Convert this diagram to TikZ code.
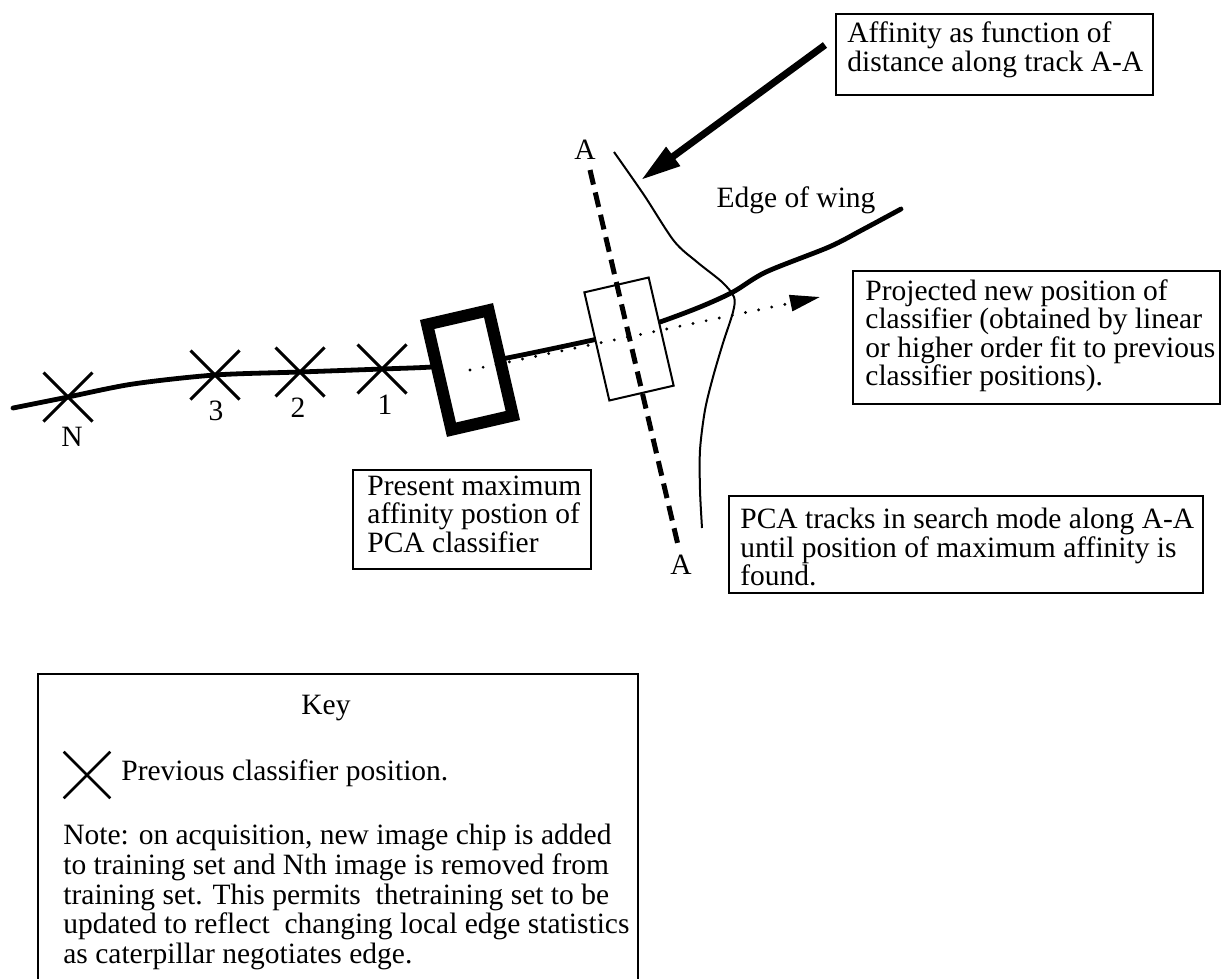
\documentclass[tikz,border=0pt]{standalone}
\usepackage{fontspec}
\setmainfont{Liberation Serif}
\usetikzlibrary{arrows.meta,shapes.misc}
\begin{document}
\begin{tikzpicture}[x=0.5pt,y=-0.5pt,
  every node/.style={font=\fontsize{14.75pt}{14.25pt}\selectfont},
  txtbox/.style={draw, line width=1.2pt, fill=white, anchor=north west, inner sep=0pt},
  boxtext/.style={anchor=west, align=left, inner sep=0pt},
  track/.style={line width=2.4pt, line cap=round, line join=round},
  marker/.style={cross out, draw, line width=1.5pt, minimum size=23pt, inner sep=0pt},
  clsbox/.style={draw, fill=white, rotate=13, inner sep=0pt},
  dotline/.style={line width=1.6pt, line cap=round, dash pattern=on 0pt off 6.7pt, -{Triangle[length=15pt,width=8pt]}},
  aaline/.style={line width=2.5pt, dash pattern=on 7.5pt off 4pt},
  affcurve/.style={line width=1pt},
  bigarrow/.style={line width=3.5pt, -{Triangle[length=20pt,width=11pt]}},
  lbl/.style={inner sep=0pt}
]
\useasboundingbox (0,0) rectangle (1221,979);
\clip (0,0) rectangle (1221,979);

% track (edge of wing)
\draw[track] plot[smooth] coordinates {(13,408) (68,397) (133,384) (215,375) (300,372) (382,369) (432,367) (470,363) (507,358) (593,340) (627,332) (660,322) (700,307) (733,292) (766,272) (829,247) (862,230) (901,209)};

% classifier boxes
\node[clsbox, line width=6pt, minimum width=31.5pt, minimum height=54pt] (cls) at (470,370) {};
\node[clsbox, line width=1pt, minimum width=33pt, minimum height=55.5pt] (pca) at (629,339) {};

% projected position (dotted)
\coordinate (ptip) at (820,297);
\draw[dotline] (cls.center) -- (ptip);

% track A-A
\coordinate (aatop) at (590,170);
\coordinate (aabot) at (678,545);
\draw[aaline] (aatop) -- (aabot);
\node[lbl] (atop) at (585,150) {A};
\node[lbl] (abot) at (681,565) {A};

% affinity curve
\draw[affcurve] plot[smooth] coordinates {(614,152) (644,195) (674,241) (697,262) (722,282) (734,297) (733,312) (723,343) (713,377) (705,410) (700,450) (700,490) (702,528)};
\coordinate (affc) at (641,180);

% previous positions
\node[marker] (mN) at (68,397) {};
\node[marker] (m3) at (215,375) {};
\node[marker] (m2) at (300,372) {};
\node[marker] (m1) at (382,369) {};
\node[lbl] (lN) at (72,437) {N};
\node[lbl] (l3) at (216,411) {3};
\node[lbl] (l2) at (298,408) {2};
\node[lbl] (l1) at (385,405) {1};

\node[lbl] (wing) at (796,200) {Edge of wing};

% text boxes
\node[txtbox, minimum width=158.5pt, minimum height=40.5pt] (aff) at (835,13) {};
\node[boxtext] (afft) at (847,50) {Affinity as function of\\distance along track A-A};
\node[txtbox, minimum width=183.5pt, minimum height=66.5pt] (proj) at (852,270) {};
\node[boxtext] (projt) at (865,336) {Projected new position of\\classifier (obtained by linear\\or higher order fit to previous\\classifier positions).};
\node[txtbox, minimum width=237pt, minimum height=48.5pt] (srch) at (728,495) {};
\node[boxtext] (srcht) at (740,547) {PCA tracks in search mode along A-A\\until position of maximum affinity is\\found.};
\node[txtbox, minimum width=119pt, minimum height=49.5pt] (pres) at (352,469) {};
\node[boxtext] (prest) at (367,514) {Present maximum\\affinity postion of\\PCA classifier};

% arrow from affinity box to curve
\coordinate (atail) at (825,45);
\draw[bigarrow] (atail) -- (affc);

% key
\draw[line width=1.2pt] (38,1010) -- (38,674) -- (638,674) -- (638,1010);
\node[lbl] (keyt) at (326,708) {Key};
\node[marker, line width=1.3pt, minimum size=22pt] (kx) at (87,775) {};
\node[lbl, anchor=west] (kprev) at (121,773) {Previous classifier position.};
\node[lbl, anchor=north west, align=left, font=\fontsize{14.75pt}{14.8pt}\selectfont] (knote) at (63,824) {Note: on acquisition, new image chip is added\\to training set and Nth image is removed from\\training set. This permits\ \ thetraining set to be\\updated to reflect\ \ changing local edge statistics\\as caterpillar negotiates edge.};
\end{tikzpicture}
\end{document}
